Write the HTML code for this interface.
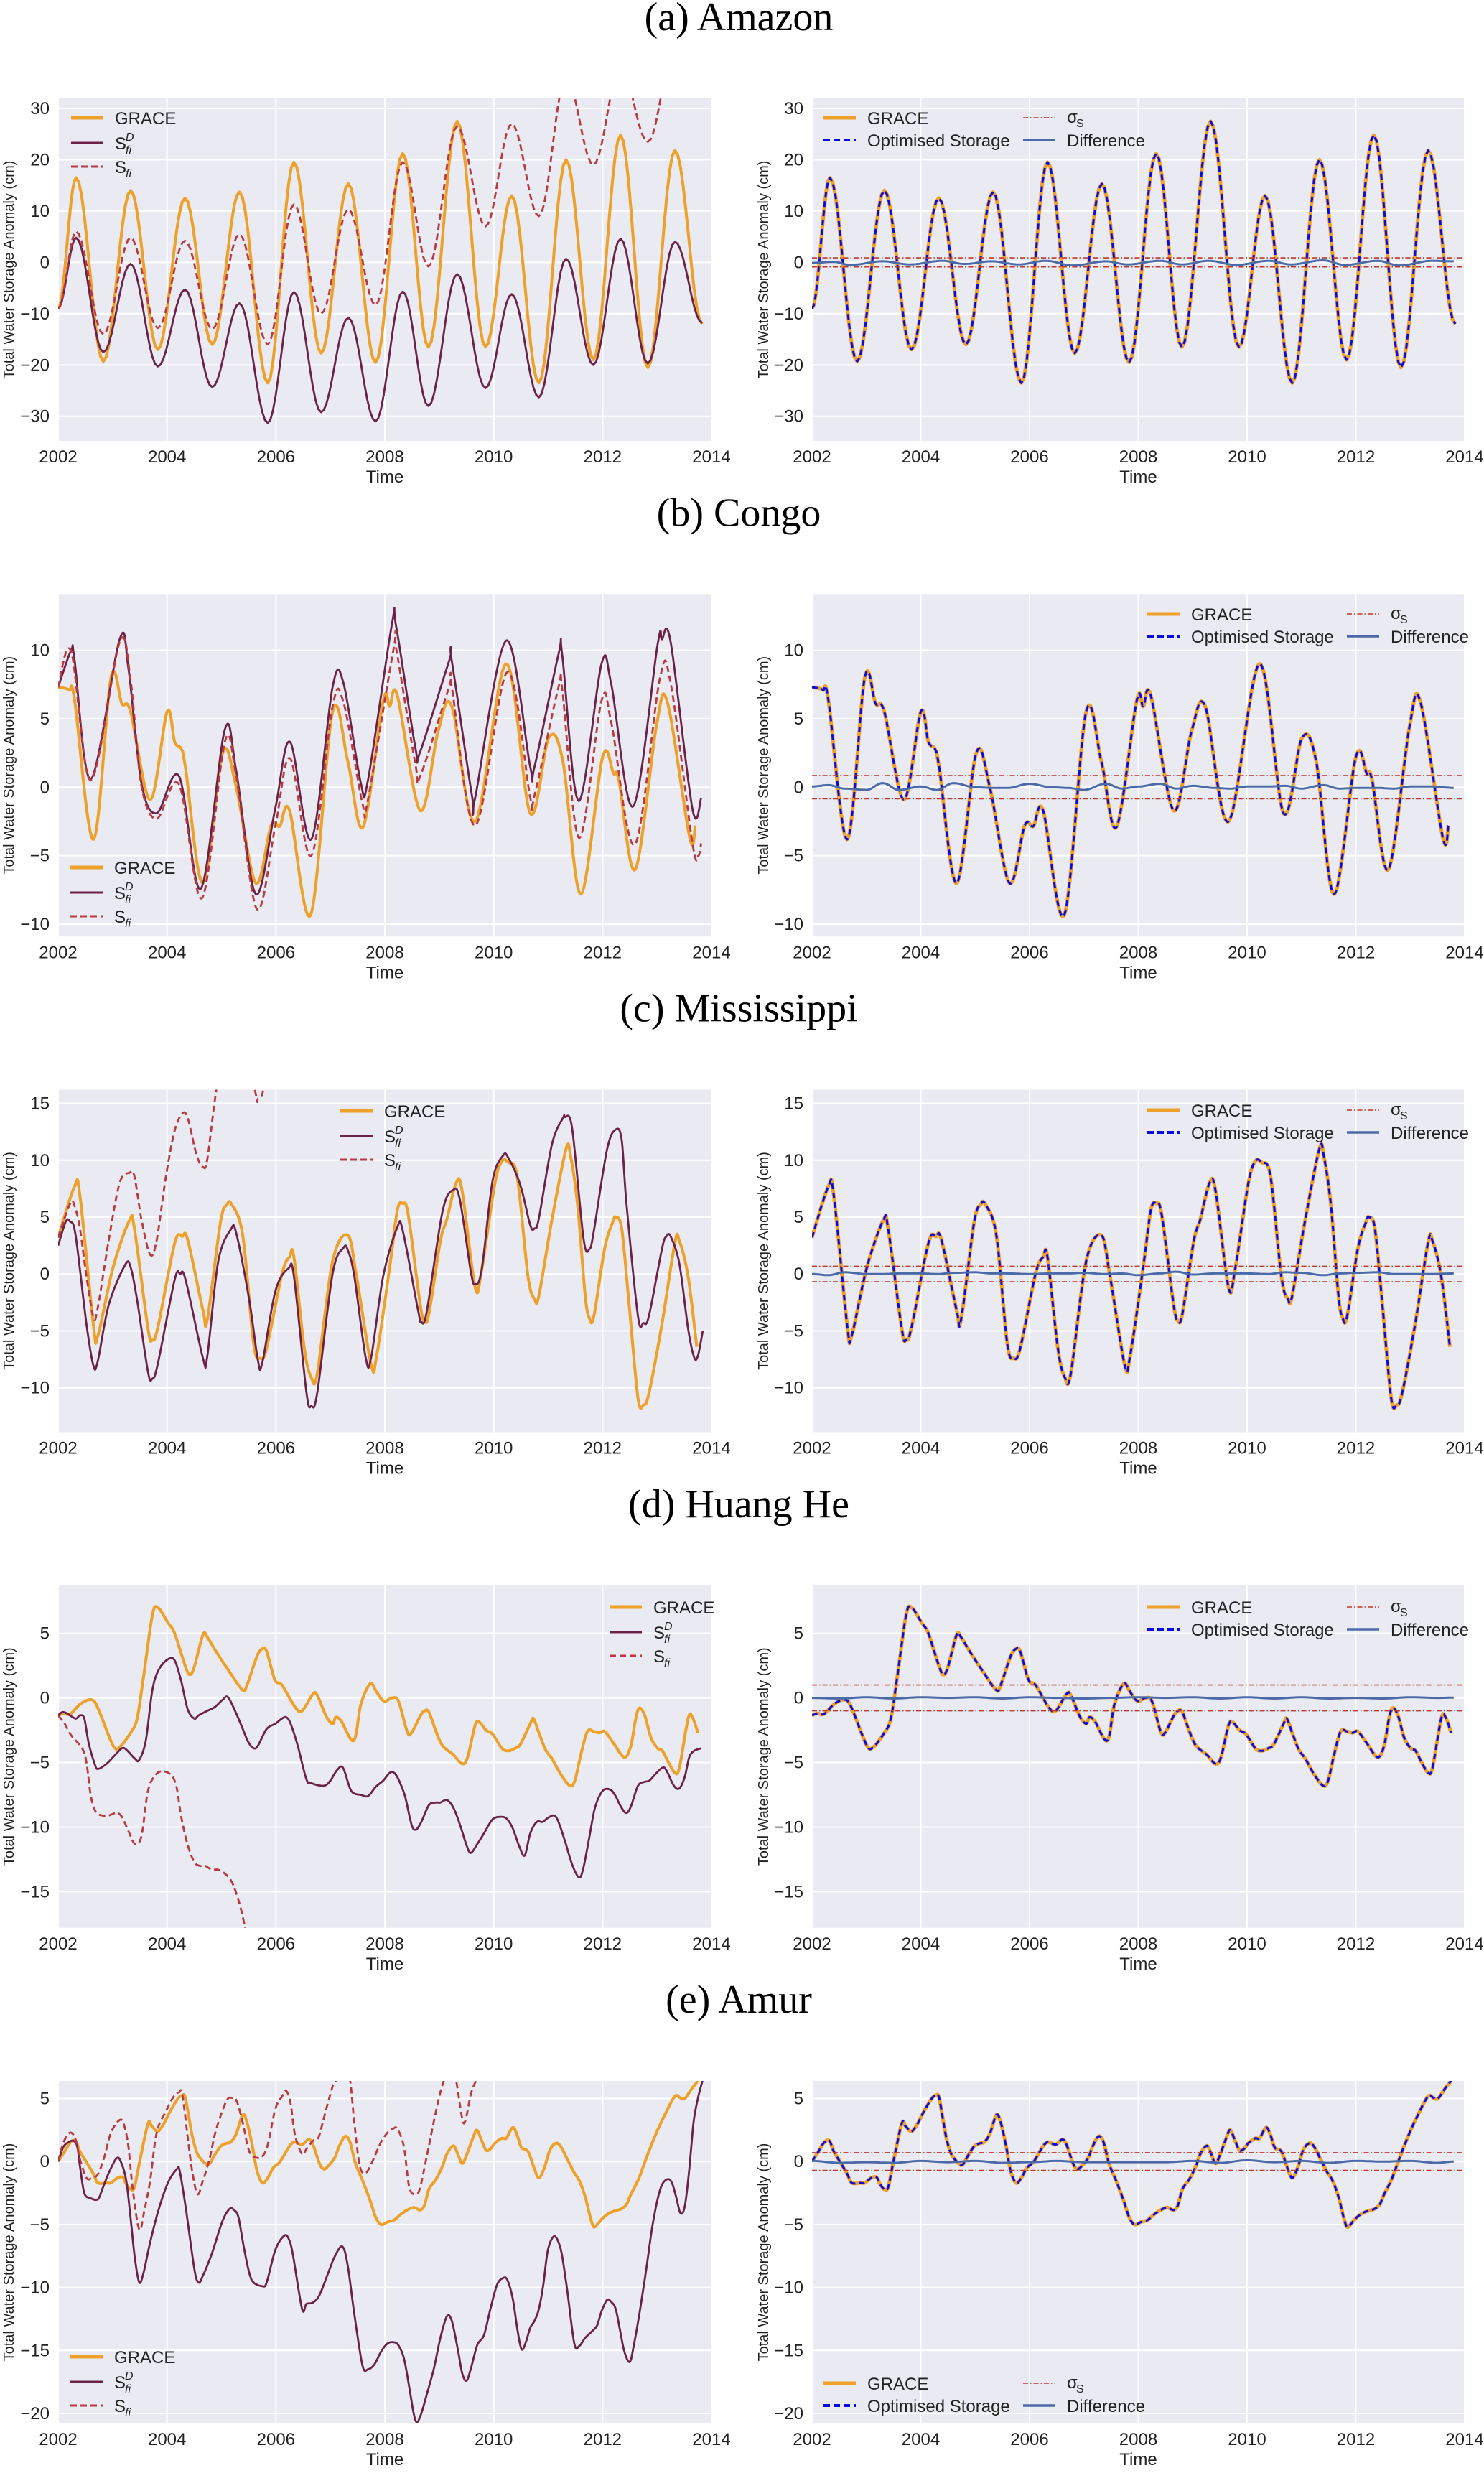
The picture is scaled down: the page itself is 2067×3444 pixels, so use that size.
<!DOCTYPE html>
<html><head><meta charset="utf-8"><title>Total Water Storage Anomaly</title>
<style>
html,body{margin:0;padding:0;background:#fff;}
svg text{font-family:"Liberation Sans Narrow","Liberation Sans",sans-serif;}
</style></head>
<body>
<svg id="fig" xmlns="http://www.w3.org/2000/svg" width="2067" height="3439" viewBox="0 0 2067 3439"></svg>
<script>
// ---------- DATA (time in years after 2002) ----------
// (a) Amazon — extrema, cosine-interpolated
const amzT = [0,.33,.83,1.33,1.83,2.33,2.83,3.33,3.85,4.33,4.83,5.33,5.83,6.33,6.8,7.33,7.85,8.33,8.83,9.33,9.83,10.33,10.83,11.33,11.83];
const amzGrace = [-9,16.5,-19.3,14,-17,12.5,-16,13.7,-23.5,19.5,-17.7,15.3,-19.5,21.2,-16.5,27.5,-16.5,13,-23.5,20,-19,24.8,-20.5,21.8,-12];
const amzSD = [-9,4.8,-17.5,-0.3,-20.3,-5.3,-24.3,-8,-31.3,-5.8,-29.2,-10.8,-31,-5.7,-28,-2.3,-24.5,-6.2,-26.3,0.7,-20,4.6,-19.7,4,-11.8];
const amzSF = [-9,6,-14,4.8,-12.8,4.2,-13,5.5,-16,11.3,-10,10.3,-8.3,19.5,-0.8,26.5,7,27,9,36,19,38,23.5,42,50];
const amzDiffT = [0,.4,.7,1.3,1.8,2.4,2.8,3.3,3.8,4.3,4.8,5.4,5.8,6.4,6.8,7.3,7.8,8.4,8.8,9.4,9.8,10.4,10.8,11.4,11.8];
const amzDiff = [-0.1,0.1,-0.5,0.2,-0.4,0.3,-0.3,0.2,-0.4,0.3,-0.6,0.2,-0.4,0.3,-0.4,0.3,-0.5,0.3,-0.4,0.4,-0.5,0.3,-0.6,0.3,0.2];
const amzSigma = 0.88;

// (b) Congo
const conGraceT = [0,.20,.30,.65,.97,1.17,1.33,1.69,2.0,2.14,2.26,2.34,2.66,3.02,3.27,3.63,3.91,4.07,4.25,4.64,5.04,5.32,5.6,5.97,6.09,6.23,6.65,6.98,7.23,7.66,8.23,8.67,9.01,9.27,9.6,10.0,10.2,10.3,10.6,10.99,11.19,11.6,11.7];
const conGrace = [7.3,7.1,6.4,-3.8,8.0,6.1,5.5,-0.9,5.5,3.3,2.8,1.4,-7.0,2.5,0,-7.0,-2.8,-2.85,-1.7,-9.3,5.5,1.9,-2.9,6.3,5.9,6.7,-1.7,4.1,5.9,-2.5,9.0,-1.9,3.6,1.9,-7.8,2.2,1.0,0.5,-6.0,4.5,6.2,-3.7,-2.8];
const conSDT = [0,.24,.30,.60,1.13,1.29,1.53,1.81,2.22,2.62,3.06,3.27,3.63,3.99,4.26,4.65,5.04,5.24,5.56,5.69,6.13,6.21,6.56,6.65,7.18,7.23,7.60,7.66,8.23,8.67,8.75,9.19,9.26,9.56,9.98,10.16,10.56,11.01,11.09,11.25,11.65,11.81];
const conSD = [7.3,10.0,9.3,0.6,10.8,8.7,0.3,-1.9,0.8,-7.4,4.2,1.2,-7.8,-1.5,3.3,-3.8,7.3,7.6,0.3,0.5,11.9,11.7,2.9,2.6,9.2,9.2,-0.6,-0.75,10.7,1.5,1.5,9.7,9.6,-1.0,9.0,7.5,-1.4,10.4,10.8,10.6,-1.6,-0.8];
const conSFT = [0,.24,.60,1.13,1.33,1.53,1.81,2.22,2.64,3.06,3.27,3.65,3.99,4.26,4.65,5.04,5.24,5.59,5.69,6.17,6.21,6.56,6.65,7.18,7.23,7.66,8.25,8.67,8.75,9.19,9.26,9.57,9.98,10.16,10.59,11.05,11.25,11.65,11.76,11.81];
const conSF = [7.3,9.9,0.5,10.6,7.8,0.1,-2.3,0.2,-8.1,3.3,0.8,-8.9,-2.8,2.1,-5.0,5.9,6.2,-1.2,-0.9,10.3,10.1,1.7,0.8,7.3,7.3,-2.8,8.4,-0.75,-0.6,7.3,7.1,-3.7,6.3,4.7,-4.2,7.9,7.6,-4.1,-5.0,-4.1];
const conDiffT = [0,.3,.6,1.0,1.3,1.6,2.0,2.3,2.6,3.0,3.3,3.6,4.0,4.4,4.7,5.0,5.4,5.7,6.0,6.4,6.7,7.0,7.4,7.7,8.0,8.4,8.7,9.0,9.4,9.7,10.0,10.4,10.7,11.0,11.4,11.8];
const conDiff = [0.05,0.15,-0.1,-0.2,0.3,-0.2,0.05,-0.2,0.3,0,-0.05,-0.05,0.25,0,-0.05,-0.2,0.25,-0.1,0.05,0.25,-0.1,0.1,-0.05,-0.1,0.05,0.05,0.1,-0.1,0.15,-0.1,-0.05,-0.05,-0.1,0.05,0.05,-0.05];
const conSigma = 0.85;

// (c) Mississippi
const misGraceT = [0,.30,.40,.65,.73,1.01,1.31,1.40,1.65,1.73,1.83,2.14,2.28,2.38,2.66,2.74,2.98,3.10,3.19,3.39,3.59,3.71,3.83,4.11,4.25,4.33,4.52,4.65,4.76,5.04,5.32,5.48,5.75,5.85,6.09,6.23,6.33,6.43,6.65,6.73,6.81,7.02,7.14,7.31,7.42,7.66,7.78,8.02,8.15,8.27,8.43,8.63,8.75,8.83,9.07,9.33,9.41,9.54,9.68,9.76,9.84,10.04,10.19,10.24,10.35,10.48,10.65,10.75,10.85,11.09,11.33,11.41,11.57,11.73];
const misGrace = [3.2,7.7,6.9,-4.6,-5.4,0.6,4.7,4.0,-4.8,-5.8,-4.7,2.7,3.3,3.0,-3.2,-4.0,4.5,6.1,6.1,3.4,-6.1,-7.4,-6.5,0,1.5,1.5,-6.5,-9.1,-8.7,1.1,3.4,-0.2,-8.0,-7.2,0.6,5.6,6.2,5.2,-2.7,-4.1,-3.5,2.9,4.8,8.0,7.3,-1.2,0.4,7.9,9.9,9.8,8.6,-0.2,-2.2,-1.9,4.8,11.0,10.4,6.1,-1.9,-3.9,-3.7,2.3,4.6,5.0,4.0,-2.3,-10.9,-11.5,-10.5,-4.4,2.8,2.9,-0.2,-6.4];
const misSDT = [0,.14,.22,.32,.52,.65,.73,.93,1.23,1.33,1.45,1.65,1.73,1.83,2.14,2.24,2.34,2.66,2.74,2.94,3.17,3.27,3.51,3.67,3.75,3.99,4.23,4.33,4.56,4.65,4.76,5.04,5.24,5.32,5.44,5.65,5.75,5.97,6.23,6.33,6.61,6.67,6.77,7.06,7.26,7.38,7.58,7.66,7.78,7.98,8.17,8.27,8.49,8.67,8.75,8.83,9.07,9.27,9.31,9.44,9.65,9.76,9.84,10.08,10.24,10.35,10.44,10.65,10.75,10.85,11.09,11.17,11.25,11.41,11.57,11.68,11.75,11.84];
const misSD = [2.5,4.6,4.6,3.4,-4.4,-8.1,-7.6,-2.7,0.8,0.6,-2.3,-8.6,-9.2,-7.9,-0.5,0,-0.5,-7.4,-7.2,1.1,3.9,3.6,-2.3,-7.6,-7.8,-1.5,0.5,-0.2,-10.4,-11.6,-10.4,0,2.3,2.1,-0.2,-7.4,-7.3,-0.2,4.1,3.8,-3.2,-4.2,-3.3,5.5,7.4,6.5,0.2,-0.9,0.4,8.2,10.4,10.2,7.8,4.3,4.0,4.9,11.4,13.7,13.8,12.8,3.1,2.2,3.8,10.9,12.7,11.8,6.1,-3.7,-4.3,-3.7,2.2,3.3,3.3,0.9,-4.8,-7.3,-7.2,-5.0];
const misSFT = [0,.22,.30,.40,.52,.65,.73,.93,1.13,1.31,1.40,1.53,1.69,1.81,1.98,2.14,2.28,2.38,2.54,2.66,2.74,2.90,3.1,3.35,3.63,3.67,3.8,4.1,11.8];
const misSF = [3.2,6.2,6.0,4.0,-0.2,-3.8,-2.9,3.0,8.0,8.9,8.6,4.8,1.7,3.0,8.6,12.6,14.1,13.7,10.5,9.4,10.1,16.0,21,22,15.8,15.4,17,28,40];
const misDiffT = [0,.3,.6,1.0,1.3,1.6,2.0,2.3,2.6,3.0,3.3,3.6,4.0,4.4,4.7,5.0,5.4,5.7,6.0,6.4,6.7,7.0,7.4,7.7,8.0,8.4,8.7,9.0,9.4,9.7,10.0,10.4,10.7,11.0,11.4,11.8];
const misDiff = [0,-0.1,0.15,0,0,0.05,0.05,0,0.1,0.15,0.05,0.05,0,0.05,0.05,0.1,0,0.05,-0.1,0.05,0.2,-0.05,0.05,0.05,0.05,0,0.15,0.1,-0.1,0.05,0.1,0.15,0,0,0,0.05];
const misSigma = 0.68;

// (d) Huang He
const hhGraceT = [0,.10,.22,.40,.56,.67,.77,1.01,1.13,1.33,1.45,1.57,1.73,1.83,2.02,2.14,2.34,2.42,2.50,2.66,2.74,2.90,3.15,3.39,3.47,3.65,3.75,3.83,3.98,4.11,4.35,4.48,4.68,4.76,4.92,5.04,5.10,5.20,5.43,5.56,5.73,5.83,5.93,6.01,6.13,6.25,6.41,6.49,6.65,6.73,6.81,6.94,7.06,7.26,7.42,7.52,7.66,7.74,7.86,7.98,8.15,8.27,8.39,8.49,8.67,8.73,8.83,8.95,9.07,9.23,9.40,9.49,9.60,9.72,9.84,9.94,10.04,10.20,10.40,10.52,10.60,10.67,10.77,10.89,11.01,11.10,11.21,11.33,11.41,11.57,11.65,11.75];
const hhGrace = [-1.35,-1.2,-1.25,-0.5,-0.15,-0.3,-1.2,-3.7,-3.8,-2.7,-1.6,1.7,6.4,7.0,5.8,5.0,2.4,1.8,2.4,4.9,4.7,3.6,2.0,0.6,1.0,3.2,3.8,3.6,1.4,1.0,-0.7,-1.0,0.3,0.2,-1.4,-2.0,-1.5,-1.8,-3.3,-0.5,1.1,0.6,-0.05,-0.25,0,-0.25,-2.6,-2.7,-1.4,-1.0,-1.1,-2.6,-3.7,-4.4,-5.1,-4.6,-2.1,-1.9,-2.5,-2.8,-3.9,-4.1,-3.9,-3.6,-2.0,-1.6,-2.7,-4.0,-4.7,-5.9,-6.8,-6.4,-4.4,-2.6,-2.6,-2.7,-2.6,-3.5,-4.6,-3.7,-1.8,-0.8,-1.3,-3.1,-3.9,-4.1,-5.0,-5.8,-5.4,-1.6,-1.5,-2.7];
const hhSDT = [0,.08,.16,.32,.40,.48,.56,.67,.73,.89,1.05,1.17,1.25,1.41,1.49,1.61,1.73,1.85,2.02,2.14,2.26,2.38,2.50,2.58,2.74,2.88,3.02,3.12,3.27,3.39,3.49,3.59,3.67,3.83,3.99,4.11,4.19,4.27,4.40,4.56,4.65,4.88,5.00,5.12,5.23,5.36,5.44,5.56,5.69,5.83,5.97,6.09,6.17,6.25,6.37,6.49,6.57,6.67,6.81,6.94,7.02,7.14,7.26,7.38,7.50,7.58,7.70,7.82,7.98,8.15,8.25,8.35,8.47,8.57,8.67,8.79,8.90,8.99,9.11,9.19,9.31,9.44,9.57,9.65,9.76,9.86,10.0,10.14,10.24,10.32,10.43,10.52,10.65,10.77,10.86,10.97,11.10,11.17,11.31,11.41,11.51,11.59,11.68,11.81];
const hhSD = [-1.35,-1.1,-1.2,-1.6,-1.35,-1.6,-3.5,-5.1,-5.5,-5.1,-4.4,-3.9,-4.0,-4.7,-4.8,-3.3,0.6,2.2,3.0,2.9,1.3,-0.9,-1.6,-1.35,-1.0,-0.7,-0.15,0.05,-1.2,-2.4,-3.4,-3.9,-3.7,-2.4,-2.0,-1.6,-1.5,-2.0,-3.7,-6.3,-6.6,-6.8,-6.4,-5.6,-5.4,-7.0,-7.4,-7.5,-7.6,-6.9,-6.4,-5.8,-5.8,-6.3,-7.6,-9.8,-10.2,-9.6,-8.3,-8.1,-8.1,-7.9,-8.5,-9.8,-11.4,-12.0,-11.3,-10.5,-9.4,-9.2,-9.4,-10.1,-11.5,-12.2,-10.5,-9.6,-9.6,-9.3,-9.1,-9.6,-11.1,-12.9,-13.9,-13.1,-10.7,-8.5,-7.2,-7.1,-7.6,-8.3,-8.9,-8.4,-6.8,-6.5,-6.4,-5.9,-5.4,-5.6,-6.8,-7.0,-6.1,-4.6,-4.1,-3.9];
const hhSFT = [0,.12,.24,.44,.52,.60,.69,.81,.93,1.07,1.17,1.29,1.41,1.53,1.65,1.80,1.96,2.10,2.18,2.26,2.38,2.50,2.60,2.70,2.82,2.94,3.06,3.17,3.27,3.36,3.44,3.55,4.0,11.8];
const hhSF = [-1.35,-2.0,-2.9,-3.9,-5.0,-7.6,-8.8,-9.1,-9.1,-8.9,-9.2,-10.3,-11.3,-10.7,-7.2,-5.9,-5.7,-6.1,-7.0,-9.2,-11.4,-12.7,-13.0,-13.0,-13.3,-13.3,-13.6,-14.1,-15.1,-16.4,-17.9,-19.9,-25,-60];
const hhDiffT = [0,.5,1.0,1.5,2.0,2.5,3.0,3.5,4.0,4.5,5.0,5.5,6.0,6.5,7.0,7.5,8.0,8.5,9.0,9.5,10.0,10.5,11.0,11.5,11.8];
const hhDiff = [0,-0.05,0.05,-0.05,0.05,0,0.05,-0.05,0.05,0,-0.05,0,0.05,0,0.05,-0.05,0.05,-0.05,0.05,-0.05,0,-0.05,0.05,0,0.02];
const hhSigma = 1.0;

// (e) Amur
const amuGraceT = [0,.12,.22,.32,.40,.52,.65,.73,.89,.97,1.09,1.19,1.25,1.33,1.40,1.49,1.65,1.72,1.83,1.94,2.06,2.20,2.28,2.34,2.46,2.56,2.70,2.77,2.86,2.98,3.09,3.17,3.27,3.39,3.47,3.57,3.65,3.75,3.85,3.95,4.07,4.19,4.27,4.35,4.48,4.60,4.68,4.80,4.88,4.96,5.08,5.16,5.27,5.36,5.46,5.59,5.73,5.83,5.93,6.05,6.17,6.29,6.41,6.53,6.65,6.73,6.81,6.94,7.06,7.14,7.26,7.34,7.42,7.50,7.62,7.69,7.78,7.86,7.94,8.02,8.15,8.23,8.35,8.43,8.51,8.63,8.75,8.83,8.93,9.03,9.14,9.23,9.35,9.48,9.57,9.68,9.78,9.84,9.92,10.0,10.12,10.24,10.35,10.44,10.52,10.65,10.75,10.89,11.01,11.13,11.27,11.35,11.43,11.51,11.64,11.73,11.84];
const amuGrace = [0,0.8,1.5,1.65,0.8,-0.05,-1.0,-1.7,-1.7,-1.7,-1.3,-1.25,-1.8,-2.2,-2.05,-0.15,3.0,2.8,2.4,3.0,4.0,5.0,5.25,5.0,2.1,0.6,-0.15,-0.25,0.4,1.2,1.45,1.55,2.2,3.7,3.1,1.2,-0.7,-1.7,-1.3,-0.5,-0.05,0.8,1.35,1.55,1.35,1.75,1.35,-0.15,-0.6,-0.35,0.3,1.2,2.0,1.55,-0.15,-1.5,-3.1,-4.4,-5.0,-4.8,-4.65,-4.2,-3.85,-3.65,-3.85,-3.45,-2.2,-1.4,-0.35,0.6,1.25,0.6,-0.15,0.5,1.9,2.5,1.65,0.9,1.0,1.45,1.85,1.85,2.7,2.1,1.1,0.8,-0.6,-1.3,-0.5,0.9,1.45,1.2,0.2,-0.9,-1.5,-2.8,-4.5,-5.2,-4.9,-4.5,-4.1,-3.9,-3.75,-3.4,-2.6,-1.5,-0.35,1.25,2.5,3.6,4.8,5.25,5.05,5.0,5.8,6.3,7.2];
const amuSDT = [0,.10,.20,.28,.35,.40,.48,.59,.73,.81,.93,1.07,1.15,1.25,1.33,1.41,1.49,1.57,1.69,1.85,2.02,2.18,2.23,2.34,2.50,2.58,2.66,2.82,3.02,3.15,3.23,3.31,3.41,3.51,3.59,3.75,3.83,3.99,4.15,4.23,4.31,4.48,4.56,4.68,4.80,4.96,5.08,5.22,5.32,5.44,5.59,5.69,5.81,5.93,6.05,6.17,6.25,6.35,6.45,6.53,6.59,6.67,6.77,6.90,7.02,7.14,7.23,7.34,7.42,7.50,7.58,7.70,7.82,7.94,8.06,8.17,8.25,8.35,8.43,8.51,8.59,8.67,8.75,8.83,8.91,8.99,9.09,9.17,9.25,9.35,9.48,9.57,9.68,9.80,9.90,9.98,10.08,10.16,10.24,10.32,10.40,10.50,10.58,10.69,10.81,10.91,11.01,11.09,11.19,11.27,11.35,11.43,11.51,11.59,11.67,11.75,11.84];
const amuSD = [0,1.2,1.55,1.65,1.2,-0.35,-2.5,-2.9,-3.0,-2.2,-0.9,0.25,0,-1.5,-4.5,-7.7,-9.6,-8.8,-6.4,-3.75,-1.65,-0.6,-0.7,-3.55,-8.5,-9.6,-9.05,-7.35,-4.7,-3.75,-3.85,-4.4,-6.8,-8.85,-9.6,-9.9,-9.6,-7.0,-5.9,-6.1,-7.35,-11.7,-11.3,-11.2,-10.6,-8.85,-7.55,-6.75,-8.3,-12.1,-16.2,-16.5,-16.1,-15.1,-14.45,-14.35,-14.6,-15.6,-17.95,-20.0,-20.7,-20.0,-18.5,-16.45,-14.0,-12.3,-12.65,-14.9,-16.8,-17.4,-16.45,-14.55,-13.8,-11.7,-9.8,-9.25,-9.4,-10.9,-13.2,-14.9,-14.35,-13.2,-12.65,-11.7,-9.8,-7.15,-6.0,-6.2,-7.35,-10.2,-14.45,-14.65,-14.0,-13.5,-13.0,-11.9,-11.0,-11.15,-11.7,-13.4,-15.1,-15.9,-14.45,-11.7,-8.3,-5.25,-3.0,-1.85,-1.4,-1.65,-2.8,-4.1,-3.55,-0.7,3.1,5.0,6.5];
const amuSFT = [0,.10,.22,.32,.40,.52,.62,.73,.85,.97,1.13,1.21,1.29,1.37,1.49,1.59,1.69,1.81,1.98,2.12,2.22,2.28,2.38,2.46,2.56,2.66,2.78,2.90,3.09,3.20,3.28,3.39,3.51,3.65,3.75,3.85,3.99,4.11,4.19,4.27,4.35,4.48,4.56,4.68,4.78,4.88,5.00,5.08,5.28,5.36,5.44,5.54,5.65,5.77,5.93,6.05,6.15,6.23,6.35,6.45,6.57,6.65,6.77,6.94,7.06,7.2,7.30,7.42,7.48,7.58,7.66,7.78,8.2,11.8];
const amuSF = [0,1.55,2.3,1.75,0.2,-1.3,-1.3,-1.0,0.4,2.3,3.3,2.9,1.2,-2.2,-5.4,-3.75,-1.5,2.3,4.0,5.15,5.5,5.35,1.9,-0.7,-2.6,-1.5,0.2,2.5,4.8,5.05,4.8,3.1,0.8,0.3,0.4,1.35,4.2,5.15,5.6,4.6,2.1,0.6,1.0,1.65,1.9,3.45,5.35,6.3,7.0,6.5,3.1,-0.35,-0.9,0,1.55,2.3,2.6,2.6,1.2,-2.05,-2.6,-2.05,0.4,4.0,6.1,7.6,6.65,3.45,3.25,5.35,6.3,7.7,12,20];
const amuDiffT = [0,.5,1.0,1.5,2.0,2.5,3.0,3.5,4.0,4.5,5.0,5.5,6.0,6.5,7.0,7.5,8.0,8.5,9.0,9.5,10.0,10.5,11.0,11.5,11.8];
const amuDiff = [0.05,-0.1,-0.05,-0.1,0.05,-0.05,0.05,-0.1,-0.05,0.05,-0.05,-0.05,-0.05,-0.05,0.05,-0.1,0.1,-0.05,0.05,-0.1,0.05,0,0.05,-0.1,0];
const amuSigma = 0.7;

// tick labels
const xTicks = [2002,2004,2006,2008,2010,2012,2014];
const yTicksA = [-30,-20,-10,0,10,20,30];
const yTicksB = [-10,-5,0,5,10];
const yTicksC = [-10,-5,0,5,10,15];
const yTicksD = [-15,-10,-5,0,5];
const yTicksE = [-20,-15,-10,-5,0,5];
const titles = ["(a) Amazon","(b) Congo","(c) Mississippi","(d) Huang He","(e) Amur"];

// ---------- RENDER ----------
const NS = "http://www.w3.org/2000/svg";
const svg = document.getElementById('fig');
function mk(tag, attrs, parent){
  const e = document.createElementNS(NS, tag);
  for (const k in attrs) e.setAttribute(k, attrs[k]);
  (parent||svg).appendChild(e);
  return e;
}
const C = {grace:'#EDA12B', sd:'#6B2248', sf:'#B83A40', opt:'#0A0AE6', sig:'#C0392B', diff:'#4A6BA8', bg:'#EAEAF2'};
const ROWH = 690.25, TOP0 = 137, PH = 477;
const LX = [81, 1131], PW = [910, 909];
let clipId = 0;

function makePanel(row, col, ymin, ymax, yticks){
  const x0 = LX[col], w = PW[col], y0 = TOP0 + row*ROWH;
  const sx = t => x0 + (t)/12*w;
  const sy = v => y0 + (ymax - v)/(ymax - ymin)*PH;
  const g = mk('g', {});
  
  
  const bg = mk('rect', {x:x0, y:y0, width:w, height:PH, fill:C.bg}, g);
  
  
  xTicks.forEach(yr => {
    const x = sx(yr-2002);
    const gl = mk('line', {x1:x, x2:x, y1:y0, y2:y0+PH, stroke:'#fff', 'stroke-width':2}, g);
    
    
    const tl = mk('text', {x:x, y:y0+PH+30, 'font-size':24, 'text-anchor':'middle', fill:'#222'}, g);
    
    
    tl.textContent = yr;
  });
  yticks.forEach(v => {
    const y = sy(v);
    const gl = mk('line', {x1:x0, x2:x0+w, y1:y, y2:y, stroke:'#fff', 'stroke-width':2}, g);
    
    
    const tl = mk('text', {x:x0-12, y:y+8, 'font-size':24, 'text-anchor':'end', fill:'#222'}, g);
    
    
    tl.textContent = (v<0?'\u2212':'')+Math.abs(v);
  });
  const xl = mk('text', {x:x0+w/2, y:y0+PH+58, 'font-size':24, 'text-anchor':'middle', fill:'#222'}, g);
  
  
  xl.textContent = 'Time';
  const yx = x0 - (col===0?62:61), yc = y0+PH/2;
  const yl = mk('text', {x:yx, y:yc, 'font-size':20, 'text-anchor':'middle', fill:'#222', transform:'rotate(-90 '+yx+' '+yc+')', style:'font-family:"Liberation Sans",sans-serif'}, g);
  
  
  yl.textContent = 'Total Water Storage Anomaly (cm)';
  const id = 'clip'+(clipId++);
  const cp = mk('clipPath', {id:id}, g);
  mk('rect', {x:x0, y:y0, width:w, height:PH}, cp);
  const plot = mk('g', {'clip-path':'url(#'+id+')'}, g);
  return {g, plot, sx, sy, x0, y0, w};
}

function pathD(P, T, V, smooth){
  const X = T.map(P.sx), Y = V.map(P.sy);
  let d = 'M'+X[0].toFixed(1)+','+Y[0].toFixed(1);
  for (let i=1;i<T.length;i++){
    if (smooth){
      for (let k=1;k<=10;k++){
        const f = k/10, u = (1-Math.cos(Math.PI*f))/2;
        d += 'L'+(X[i-1]+(X[i]-X[i-1])*f).toFixed(1)+','+(Y[i-1]+(Y[i]-Y[i-1])*u).toFixed(1);
      }
    } else {
      // Catmull-Rom through the points
      const i0 = Math.max(0,i-2), i3 = Math.min(T.length-1,i+1);
      const c1x = X[i-1] + (X[i]-X[i0])/6, c1y = Y[i-1] + (Y[i]-Y[i0])/6;
      const c2x = X[i] - (X[i3]-X[i-1])/6, c2y = Y[i] - (Y[i3]-Y[i-1])/6;
      d += 'C'+c1x.toFixed(1)+','+c1y.toFixed(1)+' '+c2x.toFixed(1)+','+c2y.toFixed(1)+' '+X[i].toFixed(1)+','+Y[i].toFixed(1);
    }
  }
  return d;
}
function series(P, T, V, smooth, style, name){
  const p = mk('path', Object.assign({d:pathD(P,T,V,smooth), fill:'none', 'stroke-linejoin':'round'}, style), P.plot);
  
  
  return p;
}
function hline(P, v, name){
  const l = mk('line', {x1:P.x0, x2:P.x0+P.w, y1:P.sy(v), y2:P.sy(v), stroke:C.sig, 'stroke-width':1.6, 'stroke-dasharray':'7,3,1.5,3'}, P.plot);
  
  
}
function legItem(parent, x, y, kind, label){
  const g = mk('g', {}, parent);
  
  
  const st = {grace:{stroke:C.grace,'stroke-width':5}, sd:{stroke:C.sd,'stroke-width':3}, sf:{stroke:C.sf,'stroke-width':3,'stroke-dasharray':'9,5'},
    opt:{stroke:C.opt,'stroke-width':4,'stroke-dasharray':'9,5'}, sig:{stroke:C.sig,'stroke-width':1.6,'stroke-dasharray':'7,3,1.5,3'}, diff:{stroke:C.diff,'stroke-width':3.5}}[kind];
  mk('line', Object.assign({x1:x, x2:x+45, y1:y, y2:y}, st), g);
  const tx = x+61;
  if (label==='SD'){
    const t = mk('text', {x:tx, y:y+9, 'font-size':24, fill:'#222'}, g); t.textContent='S';
    const a = mk('text', {x:tx+15, y:y-3, 'font-size':16, 'font-style':'italic', fill:'#222'}, g); a.textContent='D';
    const b = mk('text', {x:tx+15, y:y+15, 'font-size':16, 'font-style':'italic', fill:'#222'}, g); b.textContent='fi';
  } else if (label==='SF'){
    const t = mk('text', {x:tx, y:y+9, 'font-size':24, fill:'#222'}, g); t.textContent='S';
    const b = mk('text', {x:tx+15, y:y+15, 'font-size':16, 'font-style':'italic', fill:'#222'}, g); b.textContent='fi';
  } else if (label==='SIG'){
    const t = mk('text', {x:tx, y:y+7, 'font-size':24, fill:'#222'}, g); t.textContent='\u03c3';
    const b = mk('text', {x:tx+13, y:y+13, 'font-size':16, fill:'#222'}, g); b.textContent='S';
  } else {
    const t = mk('text', {x:tx, y:y+9, 'font-size':24, fill:'#222'}, g); t.textContent=label;
  }
}
function leftLegend(P, x, y){
  const g = mk('g', {}, P.g);
  
  
  legItem(g, x, y, 'grace', 'GRACE');
  legItem(g, x, y+35, 'sd', 'SD');
  legItem(g, x, y+68, 'sf', 'SF');
}
function rightLegend(P, x, y){
  const g = mk('g', {}, P.g);
  
  
  legItem(g, x, y, 'grace', 'GRACE');
  legItem(g, x, y+31, 'opt', 'Optimised Storage');
  legItem(g, x+278, y, 'sig', 'SIG');
  legItem(g, x+278, y+31, 'diff', 'Difference');
}

const S_G = {stroke:C.grace,'stroke-width':4};
const S_SD = {stroke:C.sd,'stroke-width':2.8};
const S_SF = {stroke:C.sf,'stroke-width':2.8,'stroke-dasharray':'9,5'};
const S_OG = {stroke:C.grace,'stroke-width':5};
const S_OPT = {stroke:C.opt,'stroke-width':3,'stroke-dasharray':'8,5'};
const S_DF = {stroke:C.diff,'stroke-width':3};

const rows = [
  {range:[-34.8,31.96], ticks:yTicksA, smooth:true, gt:amzT, g:amzGrace, sdt:amzT, sd:amzSD, sft:amzT, sf:amzSF, dt:amzDiffT, d:amzDiff, sig:amzSigma, ll:[99,164], rl:[1147,164]},
  {range:[-10.9,14.1], ticks:yTicksB, smooth:false, gt:conGraceT, g:conGrace, sdt:conSDT, sd:conSD, sft:conSFT, sf:conSF, dt:conDiffT, d:conDiff, sig:conSigma, ll:[98,1208], rl:[1598,855]},
  {range:[-13.9,16.2], ticks:yTicksC, smooth:false, gt:misGraceT, g:misGrace, sdt:misSDT, sd:misSD, sft:misSFT, sf:misSF, dt:misDiffT, d:misDiff, sig:misSigma, ll:[474,1547], rl:[1598,1546]},
  {range:[-17.8,8.72], ticks:yTicksD, smooth:false, gt:hhGraceT, g:hhGrace, sdt:hhSDT, sd:hhSD, sft:hhSFT, sf:hhSF, dt:hhDiffT, d:hhDiff, sig:hhSigma, ll:[849,2238], rl:[1598,2238]},
  {range:[-20.8,6.4], ticks:yTicksE, smooth:false, gt:amuGraceT, g:amuGrace, sdt:amuSDT, sd:amuSD, sft:amuSFT, sf:amuSF, dt:amuDiffT, d:amuDiff, sig:amuSigma, ll:[98,3282], rl:[1147,3319]}
];

rows.forEach((R, i) => {
  const tt = mk('text', {x:1029, y:42+i*ROWH, 'font-size':56, 'text-anchor':'middle', fill:'#000', style:'font-family:"Liberation Serif",serif'});
  
  
  tt.textContent = titles[i];
  const L = makePanel(i, 0, R.range[0], R.range[1], R.ticks);
  series(L, R.gt, R.g, R.smooth, S_G, 'grace-line');
  series(L, R.sdt, R.sd, R.smooth, S_SD, 'sfi-d-line');
  series(L, R.sft, R.sf, R.smooth, S_SF, 'sfi-line');
  leftLegend(L, R.ll[0], R.ll[1]);
  const P = makePanel(i, 1, R.range[0], R.range[1], R.ticks);
  series(P, R.gt, R.g, R.smooth, S_OG, 'grace-line');
  series(P, R.gt, R.g, R.smooth, S_OPT, 'optimised-storage-line');
  hline(P, R.sig, 'sigma-upper-line');
  hline(P, -R.sig, 'sigma-lower-line');
  series(P, R.dt, R.d, true, S_DF, 'difference-line');
  rightLegend(P, R.rl[0], R.rl[1]);
});
</script>
</body></html>
